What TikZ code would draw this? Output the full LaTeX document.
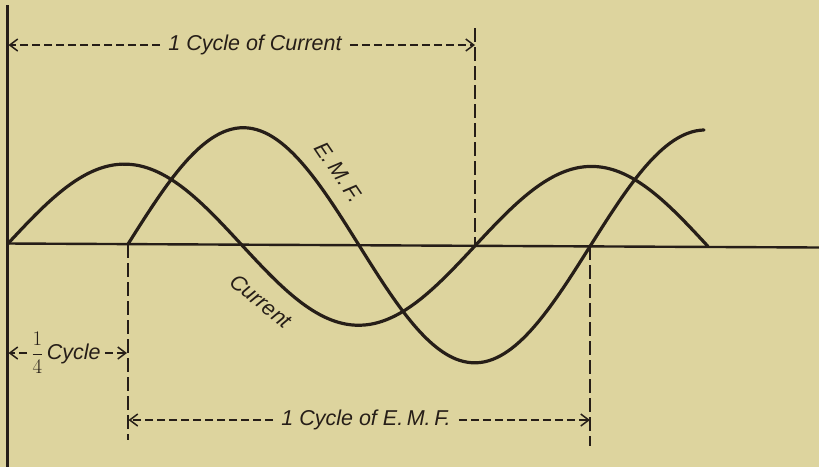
\documentclass[tikz,border=0pt]{standalone}
\usepackage{fontspec}
\setmainfont{Liberation Sans}
\usetikzlibrary{arrows.meta}
\definecolor{paper}{RGB}{221,212,158}
\definecolor{ink}{RGB}{38,30,24}
\begin{document}
\begin{tikzpicture}[x=1pt,y=-1pt,
  curve/.style={ink,line width=3.2pt,line join=round,line cap=round},
  axisline/.style={ink,line width=2.4pt},
  dimline/.style={ink,line width=1.7pt,dash pattern=on 8pt off 4pt},
  guide/.style={ink,line width=1.7pt,dash pattern=on 14pt off 5pt},
  lbl/.style={ink,font=\fontsize{21.5}{23}\selectfont\itshape,inner sep=1pt},
  dimtip/.style={-{Straight Barb[length=8pt,width=12pt,line width=1.5pt]},shorten <=7pt}
]
\fill[paper] (0,0) rectangle (819,467);
\useasboundingbox (0,0) rectangle (819,467);

% axes
\coordinate (axL) at (7,243.5);
\coordinate (axR) at (819,247.5);
\coordinate (vTop) at (7.5,5);
\coordinate (vBot) at (7.5,467);
\draw[axisline] (axL) -- (axR);
\draw[axisline] (vTop) -- (vBot);

% curves
\draw[curve] plot[domain=8:708,samples=160,smooth]
  (\x,{243.5+0.0049*\x-80*sin(0.770878*(\x-8))});
\draw[curve] plot[domain=128:704,samples=140,smooth]
  (\x,{243.5+0.0049*\x-117*sin(0.779221*(\x-128))});

% guide lines
\coordinate (g1t) at (475,28);
\coordinate (g1b) at (475,245.8);
\coordinate (g2t) at (128,244.1);
\coordinate (g2b) at (128,440);
\coordinate (g3t) at (590,246.4);
\coordinate (g3b) at (590,446);
\draw[guide] (g1t) -- (g1b);
\draw[guide] (g2t) -- (g2b);
\draw[guide] (g3t) -- (g3b);

% top dimension
\coordinate (tL) at (8.5,45);
\coordinate (tR) at (475,45);
\node[lbl] (ttext) at (255,45) {1 Cycle of Current};
\draw[dimline,dimtip] (ttext.west) -- (tL);
\draw[dimline,dimtip] (ttext.east) -- (tR);

% quarter cycle
\coordinate (qL) at (8.5,353);
\coordinate (qR) at (127,353);
\node[lbl] (qtext) at (66,353) {$\displaystyle\frac{1}{4}$\,Cycle};
\draw[dimline,dimtip,shorten <=3pt] (qtext.west) -- (qL);
\draw[dimline,dimtip,shorten <=3pt] (qtext.east) -- (qR);

% bottom dimension
\coordinate (bL) at (128.5,420);
\coordinate (bR) at (590,420);
\node[lbl] (btext) at (366,420) {1 Cycle of E.\,M.\,F.};
\draw[dimline,dimtip] (btext.west) -- (bL);
\draw[dimline,dimtip] (btext.east) -- (bR);

% curve labels
\node[lbl,rotate=-56] (emf) at (339,172) {E.\,M.\,F.};
\node[lbl,rotate=-39] (cur) at (261,301) {Current};
\end{tikzpicture}
\end{document}
